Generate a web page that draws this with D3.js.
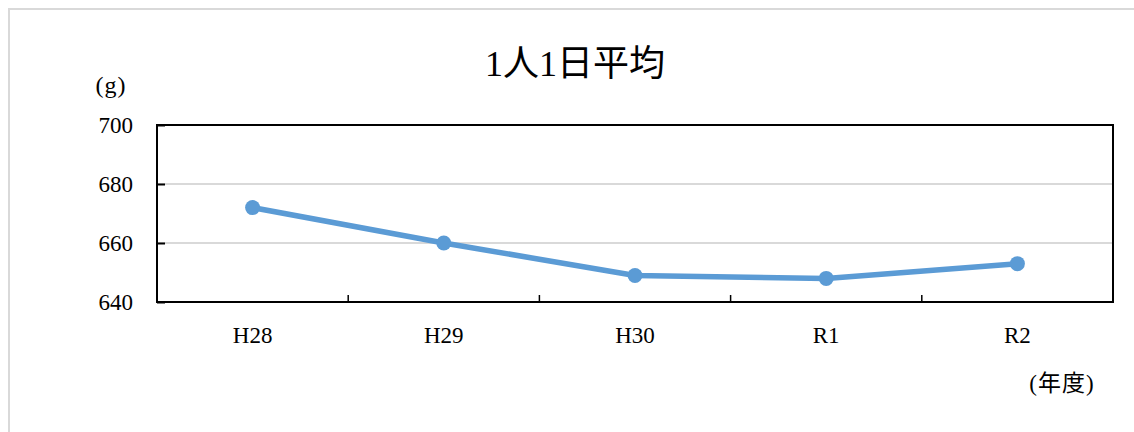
<!DOCTYPE html>
<html>
<head>
<meta charset="utf-8">
<script src="https://cdn.jsdelivr.net/npm/d3@7"></script>
<style>
  body { margin: 0; background: #fff; }
  svg { display: block; }
  text { font-family: "Liberation Serif", "Noto Sans CJK JP", serif; fill: #000; }
</style>
</head>
<body>
<svg id="chart" width="1134" height="432"></svg>
<script>
// 1人1日平均 (g)
const years = ["H28", "H29", "H30", "R1", "R2"];
const grams = [672, 660, 649, 648, 653];
const yTicks = [640, 660, 680, 700];

const svg = d3.select("#chart");
const W = 1134, H = 432;
const m = { left: 157, right: 1113, top: 125, bottom: 302 };

// outer chart-area frame
svg.append("rect")
    .attr("x", 9).attr("y", 9)
    .attr("width", W + 10).attr("height", H + 10)
    .attr("fill", "#fff")
    .attr("stroke", "#d9d9d9")
    .attr("stroke-width", 2);

const x = d3.scaleBand().domain(years).range([m.left, m.right]);
const y = d3.scaleLinear().domain([640, 700]).range([m.bottom, m.top]);

// gridlines
svg.append("g")
    .selectAll("line")
    .data(yTicks.filter(d => d > 640 && d < 700))
    .join("line")
    .attr("x1", m.left).attr("x2", m.right)
    .attr("y1", d => y(d)).attr("y2", d => y(d))
    .attr("stroke", "#d9d9d9")
    .attr("stroke-width", 2);

// y axis (ticks point inward)
const yAxis = svg.append("g")
    .attr("transform", `translate(${m.left},0)`)
    .call(d3.axisRight(y).tickValues(yTicks).tickSize(8).tickFormat(""));
yAxis.select(".domain").remove();
yAxis.selectAll("line").attr("stroke", "#000").attr("stroke-width", 2);

svg.append("g")
    .selectAll("text")
    .data(yTicks)
    .join("text")
    .attr("x", m.left - 24)
    .attr("y", d => y(d))
    .attr("dy", "0.35em")
    .attr("text-anchor", "end")
    .attr("font-size", 23)
    .text(d => d);

// x axis: category boundaries as inward ticks
const bounds = years.slice(1).map(d => x(d));
svg.append("g")
    .selectAll("line")
    .data(bounds)
    .join("line")
    .attr("x1", d => d).attr("x2", d => d)
    .attr("y1", m.bottom - 7).attr("y2", m.bottom)
    .attr("stroke", "#000")
    .attr("stroke-width", 1.5);

svg.append("g")
    .selectAll("text")
    .data(years)
    .join("text")
    .attr("x", d => x(d) + x.bandwidth() / 2)
    .attr("y", 343)
    .attr("text-anchor", "middle")
    .attr("font-size", 23)
    .text(d => d);

// plot frame
svg.append("rect")
    .attr("x", m.left).attr("y", m.top)
    .attr("width", m.right - m.left).attr("height", m.bottom - m.top)
    .attr("fill", "none")
    .attr("stroke", "#000")
    .attr("stroke-width", 2);

// line + markers
const pts = years.map((d, i) => [x(d) + x.bandwidth() / 2, y(grams[i])]);
svg.append("path")
    .attr("d", d3.line()(pts))
    .attr("fill", "none")
    .attr("stroke", "#5b9bd5")
    .attr("stroke-width", 5.5)
    .attr("stroke-linejoin", "round");

svg.append("g")
    .selectAll("circle")
    .data(pts)
    .join("circle")
    .attr("cx", d => d[0]).attr("cy", d => d[1])
    .attr("r", 7.5)
    .attr("fill", "#5b9bd5");

// titles
svg.append("text")
    .attr("x", 575).attr("y", 76)
    .attr("text-anchor", "middle")
    .attr("font-size", 36)
    .text("1人1日平均");

svg.append("text")
    .attr("x", 111).attr("y", 93)
    .attr("text-anchor", "middle")
    .attr("font-size", 24)
    .attr("letter-spacing", 1)
    .text("(g)");

svg.append("text")
    .attr("x", 1062).attr("y", 391)
    .attr("text-anchor", "middle")
    .attr("font-size", 23)
    .attr("letter-spacing", 1)
    .text("(年度)");
</script>
</body>
</html>
